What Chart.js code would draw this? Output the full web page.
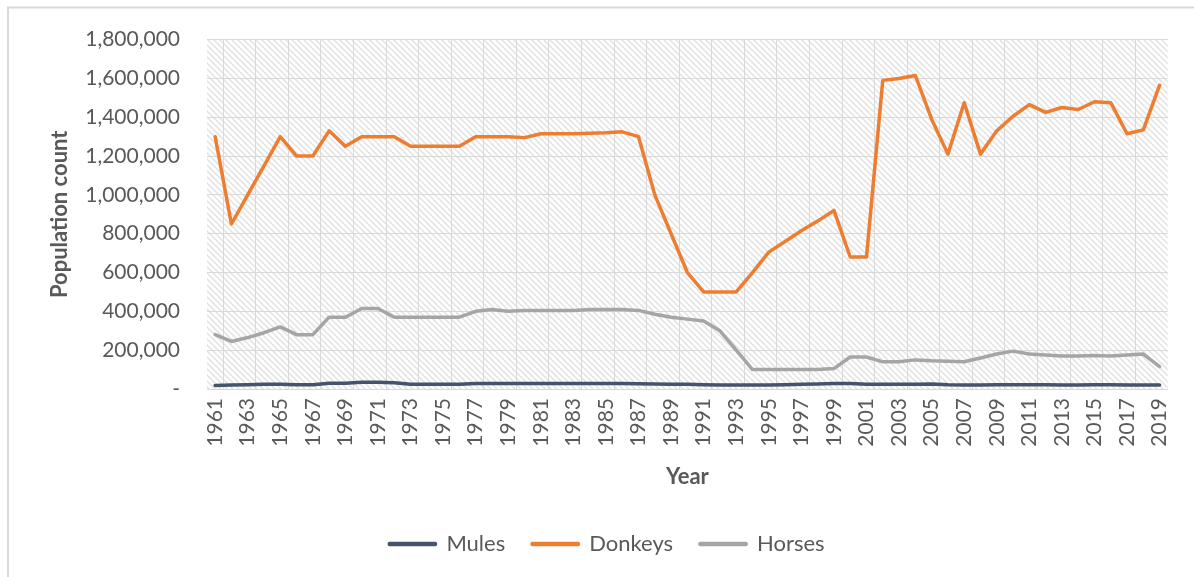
<!DOCTYPE html>
<html>
<head>
<meta charset="utf-8">
<script src="https://cdn.jsdelivr.net/npm/chart.js@4.4.1/dist/chart.umd.min.js"></script>
<style>
  html, body { margin: 0; padding: 0; background: #ffffff; }
  #wrap { position: absolute; left: 0; top: 0; width: 1194px; height: 577px; }
</style>
</head>
<body>
<div id="wrap"><canvas id="c" width="1194" height="577"></canvas></div>
<script>
const years = [];
for (let y = 1961; y <= 2019; y++) years.push(String(y));

const mules = [
  18000, 20000, 22000, 24000, 25000, 22000, 22000, 30000, 30000, 35000,
  35000, 32000, 25000, 25000, 25000, 25000, 28000, 28000, 28000, 28000,
  28000, 28000, 28000, 28000, 28000, 28000, 27000, 26000, 25000, 25000,
  22000, 20000, 20000, 20000, 20000, 22000, 24000, 26000, 28000, 28000,
  24000, 24000, 24000, 25000, 26000, 22000, 21000, 21000, 22000, 22000,
  22000, 22000, 21000, 21000, 22000, 22000, 21000, 21000, 21000
];
const donkeys = [
  1300000, 850000, 1000000, 1150000, 1300000, 1200000, 1200000, 1330000, 1250000, 1300000,
  1300000, 1300000, 1250000, 1250000, 1250000, 1250000, 1300000, 1300000, 1300000, 1295000,
  1315000, 1315000, 1315000, 1318000, 1320000, 1325000, 1300000, 1000000, 800000, 600000,
  500000, 500000, 500000, 600000, 705000, 760000, 815000, 865000, 920000, 680000,
  680000, 1590000, 1600000, 1615000, 1390000, 1210000, 1475000, 1210000, 1330000, 1405000,
  1465000, 1425000, 1450000, 1440000, 1480000, 1475000, 1315000, 1335000, 1565000
];
const horses = [
  280000, 245000, 265000, 290000, 320000, 280000, 280000, 370000, 370000, 415000,
  415000, 370000, 370000, 370000, 370000, 370000, 400000, 410000, 400000, 405000,
  405000, 405000, 405000, 410000, 410000, 410000, 405000, 385000, 370000, 360000,
  350000, 300000, 200000, 100000, 100000, 100000, 100000, 100000, 105000, 165000,
  165000, 140000, 140000, 150000, 145000, 143000, 140000, 160000, 180000, 195000,
  180000, 175000, 170000, 170000, 172000, 170000, 175000, 180000, 115000
];
const yTicks = [0, 200000, 400000, 600000, 800000, 1000000, 1200000, 1400000, 1600000, 1800000];
const seriesNames = ['Mules', 'Donkeys', 'Horses'];
const seriesColors = ['#44546A', '#ED7D31', '#A5A5A5'];

const FONT = 'Lato, "Open Sans", sans-serif';
const TXT = '#595959';

function makePattern() {
  const s = 6;
  const pc = document.createElement('canvas');
  pc.width = s; pc.height = s;
  const p = pc.getContext('2d');
  p.fillStyle = '#ffffff';
  p.fillRect(0, 0, s, s);
  p.strokeStyle = '#e2e2e2';
  p.lineWidth = 1.5;
  p.beginPath();
  p.moveTo(-1, -1); p.lineTo(s + 1, s + 1);
  p.moveTo(-1, s - 1); p.lineTo(1, s + 1);
  p.moveTo(s - 1, -1); p.lineTo(s + 1, 1);
  p.stroke();
  return p.createPattern(pc, 'repeat');
}

const bgPlugin = {
  id: 'bgPlugin',
  beforeDraw(chart) {
    const ctx = chart.ctx;
    const a = chart.chartArea;
    ctx.save();
    ctx.fillStyle = makePattern();
    ctx.fillRect(a.left, a.top, a.right - a.left, a.bottom - a.top);
    ctx.strokeStyle = '#d9d9d9';
    ctx.lineWidth = 2;
    ctx.beginPath();
    ctx.moveTo(8, 577); ctx.lineTo(8, 7.5); ctx.lineTo(1194, 7.5);
    ctx.stroke();
    ctx.restore();
  }
};

const datasets = seriesNames.map((name, i) => ({
  label: name,
  data: [mules, donkeys, horses][i],
  borderColor: seriesColors[i],
  backgroundColor: seriesColors[i],
  borderWidth: 3.5,
  pointRadius: 0,
  pointHoverRadius: 0,
  tension: 0,
  borderCapStyle: 'round',
  borderJoinStyle: 'round'
}));

new Chart(document.getElementById('c'), {
  type: 'line',
  data: { labels: years, datasets: datasets },
  plugins: [bgPlugin],
  options: {
    responsive: false,
    animation: false,
    events: [],
    layout: { autoPadding: false, padding: { left: 43, right: 23, top: 36, bottom: 12 } },
    plugins: {
      tooltip: { enabled: false },
      legend: {
        position: 'bottom',
        labels: {
          color: TXT,
          font: { family: FONT, size: 22 },
          boxWidth: 46,
          boxHeight: 1,
          padding: 27
        }
      }
    },
    scales: {
      x: {
        offset: true,
        afterFit(scale) { scale.height = 117; },
        grid: {
          offset: true,
          drawTicks: false,
          lineWidth: 1,
          color: (ctx) => (typeof ctx.index === 'number' && ctx.index % 2 === 1) ? '#d9d9d9' : 'rgba(0,0,0,0)'
        },
        border: { display: true, color: '#d9d9d9', width: 1 },
        ticks: {
          autoSkip: false,
          maxRotation: 90,
          minRotation: 90,
          padding: 9,
          color: TXT,
          font: { family: FONT, size: 21 },
          callback: function(value, index) { return index % 2 === 0 ? this.getLabelForValue(value) : ''; }
        },
        title: {
          display: true,
          text: 'Year',
          color: TXT,
          font: { family: FONT, size: 22, weight: 'bold' },
          padding: { top: 0, bottom: 16 }
        }
      },
      y: {
        min: yTicks[0],
        max: yTicks[yTicks.length - 1],
        afterFit(scale) { scale.width = 164; },
        afterBuildTicks(scale) { scale.ticks = yTicks.map(v => ({ value: v })); },
        grid: { color: '#d9d9d9', lineWidth: 1, drawTicks: false },
        border: { display: false },
        ticks: {
          padding: 27,
          color: TXT,
          font: { family: FONT, size: 21 },
          callback: (v) => v === 0 ? '-' : Number(v).toLocaleString('en-US')
        },
        title: {
          display: true,
          text: 'Population count',
          color: TXT,
          font: { family: FONT, size: 22, weight: 'bold' },
          padding: { top: 4, bottom: 0 }
        }
      }
    }
  }
});
</script>
</body>
</html>
